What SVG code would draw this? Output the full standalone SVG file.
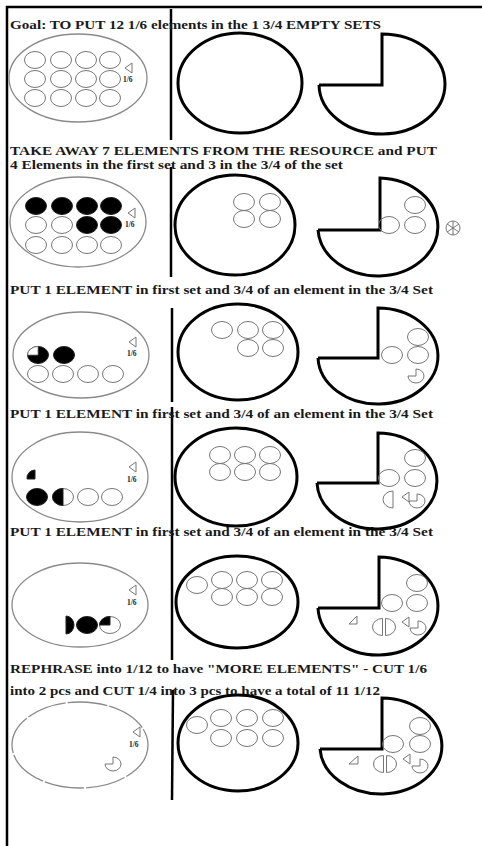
<svg xmlns="http://www.w3.org/2000/svg" xmlns:xlink="http://www.w3.org/1999/xlink" width="482" height="846" viewBox="0 0 482 846">
<style>
.t{font-family:"Liberation Serif","Times New Roman",serif;font-weight:bold;font-size:12px;fill:#1a1a1a}
.s{font-family:"Liberation Serif","Times New Roman",serif;font-weight:bold;font-size:7.5px;fill:#222}
.thick{fill:none;stroke:#000;stroke-width:3}
.oval{fill:none;stroke:#8a8a8a;stroke-width:1.3}
.sm{fill:none;stroke:#777;stroke-width:1}
.blk{fill:#000;stroke:#222;stroke-width:1}
.sep{stroke:#000;stroke-width:2.5;fill:none}
.frame{stroke:#000;stroke-width:2.5;fill:none}
</style>
<defs>
<ellipse id="c" cx="0" cy="0" rx="10.5" ry="8.5" class="sm"/>
<ellipse id="cb" cx="0" cy="0" rx="10.5" ry="8.5" class="blk"/>
<polygon id="tri" points="-4,0 3,-5 3,5" class="sm"/>
<path id="q34" d="M0,0 L0,-7 A8 7 0 1 1 -8,0 Z" class="sm"/>
<g id="split">
<path d="M-1.5,-8.5 A10 8.5 0 0 0 -1.5,8.5 Z" class="sm"/>
<path d="M1.5,-8.5 A10 8.5 0 0 1 1.5,8.5 Z" class="sm"/>
</g>
</defs>
<rect width="482" height="846" fill="#fff"/>

<g id="frame">
<line x1="6" y1="7" x2="482" y2="7" class="frame"/>
<line x1="7" y1="6" x2="7" y2="846" class="frame"/>
</g>

<g id="connectors">
<line x1="171" y1="9" x2="171" y2="140" class="sep"/>
<line x1="171" y1="167" x2="171" y2="277" class="sep"/>
<line x1="172" y1="308" x2="172" y2="402" class="sep"/>
<line x1="172" y1="407" x2="172" y2="660" class="sep"/>
<line x1="173" y1="690" x2="172" y2="800" class="sep"/>
</g>

<g id="texts">
<text class="t" x="10" y="29" textLength="371" lengthAdjust="spacingAndGlyphs">Goal: TO PUT 12 1/6 elements in the 1 3/4 EMPTY SETS</text>
<text class="t" x="10" y="155" textLength="427" lengthAdjust="spacingAndGlyphs">TAKE AWAY 7 ELEMENTS FROM THE RESOURCE and PUT</text>
<text class="t" x="10" y="169" textLength="333" lengthAdjust="spacingAndGlyphs">4 Elements in the first set and 3 in the 3/4 of the set</text>
<text class="t" x="10" y="294" textLength="423" lengthAdjust="spacingAndGlyphs">PUT 1 ELEMENT in first set and 3/4 of an element in the 3/4 Set</text>
<text class="t" x="10" y="418" textLength="423" lengthAdjust="spacingAndGlyphs">PUT 1 ELEMENT in first set and 3/4 of an element in the 3/4 Set</text>
<text class="t" x="10" y="536" textLength="423" lengthAdjust="spacingAndGlyphs">PUT 1 ELEMENT in first set and 3/4 of an element in the 3/4 Set</text>
<text class="t" x="10" y="673" textLength="417" lengthAdjust="spacingAndGlyphs">REPHRASE into 1/12 to have "MORE ELEMENTS" - CUT 1/6</text>
<text class="t" x="10" y="695" textLength="370" lengthAdjust="spacingAndGlyphs">into 2 pcs and CUT 1/4 into 3 pcs to have a total of 11 1/12</text>
</g>

<!-- Row 1 -->
<g id="r1-resource">
<ellipse cx="78" cy="78" rx="69" ry="44" class="oval"/>
<use xlink:href="#c" x="35" y="60"/><use xlink:href="#c" x="61" y="60"/><use xlink:href="#c" x="86" y="60"/><use xlink:href="#c" x="110" y="60"/>
<use xlink:href="#c" x="35" y="79"/><use xlink:href="#c" x="61" y="79"/><use xlink:href="#c" x="86" y="79"/><use xlink:href="#c" x="110" y="79"/>
<use xlink:href="#c" x="35" y="98"/><use xlink:href="#c" x="61" y="98"/><use xlink:href="#c" x="86" y="98"/><use xlink:href="#c" x="110" y="98"/>
<use xlink:href="#tri" x="129" y="68"/>
<text class="s" x="123" y="82">1/6</text>
</g>
<g id="r1-set"><ellipse cx="240" cy="83" rx="62" ry="50" class="thick"/></g>
<g id="r1-quarter-set"><path d="M319,85 L382,85 L382,34 A63 50 0 1 1 319,85" class="thick"/></g>

<!-- Row 2 -->
<g id="r2-resource">
<ellipse cx="78" cy="222" rx="68" ry="45" class="oval"/>
<use xlink:href="#cb" x="36" y="206"/><use xlink:href="#cb" x="62" y="206"/><use xlink:href="#cb" x="87" y="206"/><use xlink:href="#cb" x="111" y="206"/>
<use xlink:href="#c" x="36" y="225"/><use xlink:href="#c" x="62" y="225"/><use xlink:href="#cb" x="87" y="225"/><use xlink:href="#cb" x="111" y="225"/>
<use xlink:href="#c" x="36" y="245"/><use xlink:href="#c" x="62" y="245"/><use xlink:href="#c" x="87" y="245"/><use xlink:href="#c" x="111" y="245"/>
<use xlink:href="#tri" x="132" y="213"/>
<text class="s" x="125" y="227">1/6</text>
</g>
<g id="r2-set">
<ellipse cx="235" cy="225" rx="60" ry="50" class="thick"/>
<use xlink:href="#c" x="244" y="202"/><use xlink:href="#c" x="270" y="202"/>
<use xlink:href="#c" x="244" y="219"/><use xlink:href="#c" x="270" y="219"/>
</g>
<g id="r2-quarter-set">
<path d="M318,230 L380,230 L380,178 A60 49 0 1 1 318,230" class="thick"/>
<use xlink:href="#c" x="415" y="205"/><use xlink:href="#c" x="415" y="225"/><use xlink:href="#c" x="389" y="225"/>
</g>
<g id="r2-extra">
<circle cx="453" cy="228" r="7" class="sm"/>
<line x1="453" y1="221" x2="453" y2="235" class="sm"/>
<line x1="447" y1="224" x2="459" y2="232" class="sm"/>
<line x1="447" y1="232" x2="459" y2="224" class="sm"/>
</g>

<!-- Row 3 -->
<g id="r3-resource">
<ellipse cx="81" cy="355" rx="68" ry="43" class="oval"/>
<use xlink:href="#cb" x="38" y="355"/>
<path d="M38,355 L27.5,355 A10.5 8.5 0 0 1 38,346.5 Z" fill="#fff" stroke="#777" stroke-width="0.8"/>
<use xlink:href="#cb" x="64" y="355"/>
<use xlink:href="#c" x="38" y="374"/><use xlink:href="#c" x="63" y="374"/><use xlink:href="#c" x="88" y="374"/><use xlink:href="#c" x="113" y="374"/>
<use xlink:href="#tri" x="133" y="342"/>
<text class="s" x="127" y="356">1/6</text>
</g>
<g id="r3-set">
<ellipse cx="238" cy="352" rx="60" ry="48" class="thick"/>
<use xlink:href="#c" x="222" y="330"/><use xlink:href="#c" x="248" y="330"/><use xlink:href="#c" x="273" y="330"/>
<use xlink:href="#c" x="248" y="348"/><use xlink:href="#c" x="273" y="348"/>
</g>
<g id="r3-quarter-set">
<path d="M318,358 L378,358 L378,308 A60 48 0 1 1 318,358" class="thick"/>
<use xlink:href="#c" x="418" y="337"/><use xlink:href="#c" x="418" y="355"/><use xlink:href="#c" x="392" y="355"/>
<use xlink:href="#q34" x="416" y="376"/>
</g>

<!-- Row 4 -->
<g id="r4-resource">
<ellipse cx="80" cy="477" rx="68" ry="45" class="oval"/>
<path d="M35,470 L35,479 L27,479 A8 8 0 0 1 35,470 Z" class="blk"/>
<use xlink:href="#cb" x="37" y="497"/>
<use xlink:href="#c" x="63" y="497"/>
<path d="M63,488.5 A10.5 8.5 0 0 0 63,505.5 Z" class="blk"/>
<use xlink:href="#c" x="88" y="497"/><use xlink:href="#c" x="112" y="497"/>
<use xlink:href="#tri" x="133" y="467"/>
<text class="s" x="127" y="482">1/6</text>
</g>
<g id="r4-set">
<ellipse cx="236" cy="477" rx="61" ry="49" class="thick"/>
<use xlink:href="#c" x="220" y="455"/><use xlink:href="#c" x="245" y="455"/><use xlink:href="#c" x="270" y="455"/>
<use xlink:href="#c" x="220" y="472"/><use xlink:href="#c" x="245" y="472"/><use xlink:href="#c" x="270" y="472"/>
</g>
<g id="r4-quarter-set">
<path d="M317,483 L378,483 L378,433 A60 48 0 1 1 317,483" class="thick"/>
<use xlink:href="#c" x="415" y="458"/><use xlink:href="#c" x="415" y="478"/><use xlink:href="#c" x="389" y="478"/>
<path d="M393,491 A10 8.5 0 0 0 393,508 Z" class="sm"/>
<use xlink:href="#tri" x="406" y="497"/>
<use xlink:href="#q34" x="417" y="501"/>
</g>

<!-- Row 5 -->
<g id="r5-resource">
<ellipse cx="80" cy="605" rx="68" ry="42" class="oval"/>
<path d="M66,616 A8 9 0 0 1 66,634 Z" class="blk"/>
<use xlink:href="#cb" x="87" y="625"/>
<use xlink:href="#c" x="110" y="625"/>
<path d="M110,625 L99.5,625 A10.5 8.5 0 0 1 110,616.5 Z" class="blk"/>
<use xlink:href="#tri" x="133" y="590"/>
<text class="s" x="127" y="605">1/6</text>
</g>
<g id="r5-set">
<ellipse cx="237" cy="602" rx="61" ry="46" class="thick"/>
<use xlink:href="#c" x="197" y="585"/>
<use xlink:href="#c" x="222" y="580"/><use xlink:href="#c" x="247" y="580"/><use xlink:href="#c" x="272" y="580"/>
<use xlink:href="#c" x="222" y="597"/><use xlink:href="#c" x="247" y="597"/><use xlink:href="#c" x="272" y="597"/>
</g>
<g id="r5-quarter-set">
<path d="M318,608 L379,608 L379,557 A60 49 0 1 1 318,608" class="thick"/>
<use xlink:href="#c" x="417" y="583"/><use xlink:href="#c" x="417" y="603"/><use xlink:href="#c" x="392" y="603"/>
<polygon points="349,624 357,624 357,616" class="sm"/>
<use xlink:href="#split" x="384" y="627"/>
<use xlink:href="#tri" x="406" y="622"/>
<use xlink:href="#q34" x="418" y="628"/>
</g>

<!-- Row 6 -->
<g id="r6-resource">
<ellipse cx="80" cy="745" rx="68" ry="43" class="oval" stroke-dasharray="40 2"/>
<use xlink:href="#tri" x="137" y="732"/>
<text class="s" x="129" y="747">1/6</text>
<use xlink:href="#q34" x="113" y="764"/>
</g>
<g id="r6-set">
<ellipse cx="238" cy="743" rx="60" ry="48" class="thick"/>
<use xlink:href="#c" x="197" y="725"/>
<use xlink:href="#c" x="221" y="718"/><use xlink:href="#c" x="247" y="718"/><use xlink:href="#c" x="273" y="718"/>
<use xlink:href="#c" x="221" y="738"/><use xlink:href="#c" x="247" y="738"/><use xlink:href="#c" x="273" y="738"/>
</g>
<g id="r6-quarter-set">
<path d="M320,749 L382,749 L382,698 A61 48 0 1 1 320,749" class="thick"/>
<use xlink:href="#c" x="420" y="726"/><use xlink:href="#c" x="420" y="744"/><use xlink:href="#c" x="393" y="744"/>
<polygon points="349,764 358,764 358,756" class="sm"/>
<use xlink:href="#split" x="385" y="764"/>
<use xlink:href="#tri" x="407" y="759"/>
<use xlink:href="#q34" x="420" y="766"/>
</g>
</svg>
